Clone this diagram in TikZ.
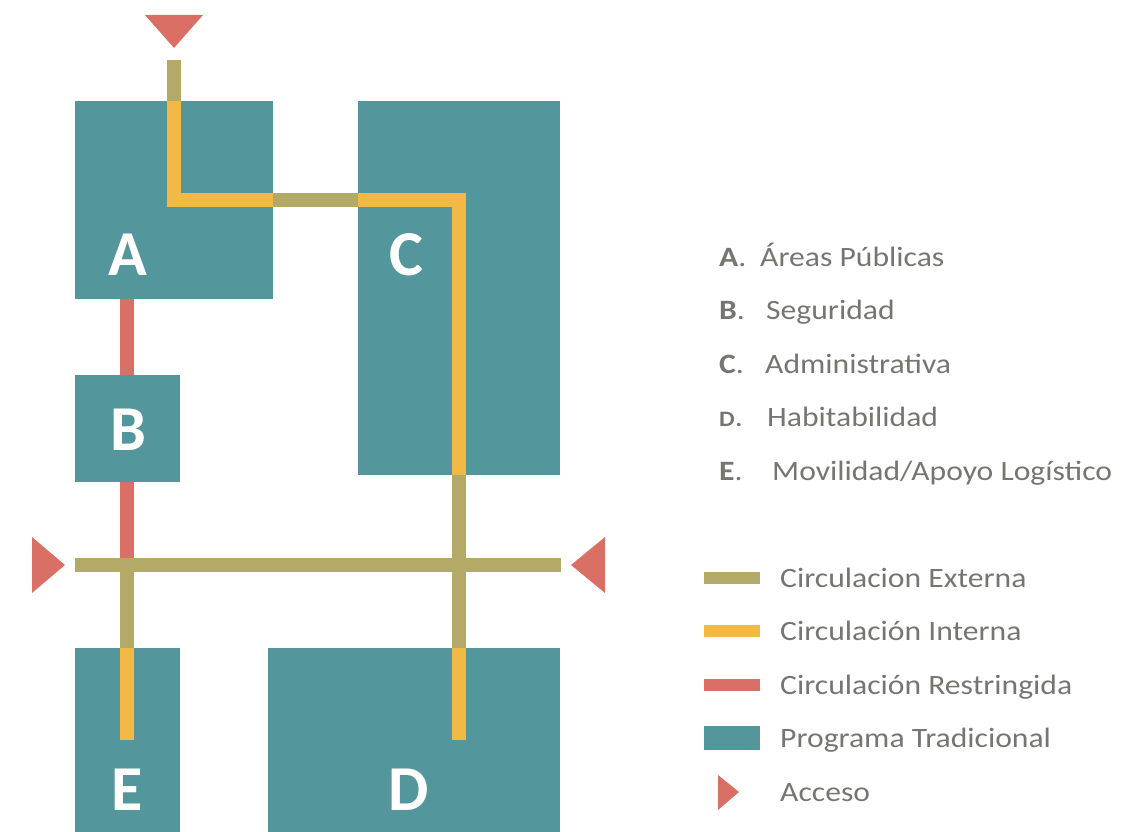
\documentclass[tikz,border=0pt]{standalone}
\usepackage{fontspec}
\setmainfont{Carlito}
\newfontfamily\legfont{Carlito}[FakeStretch=1.13]
\definecolor{teal}{HTML}{53979D}
\definecolor{olive}{HTML}{B2AA66}
\definecolor{amber}{HTML}{F2B944}
\definecolor{coral}{HTML}{DA7065}
\definecolor{txt}{HTML}{767671}
\tikzset{
  box/.style={fill=teal, draw=none, inner sep=0pt, anchor=north west},
  big/.style={text=white, font=\fontsize{64}{64}\selectfont\bfseries, inner sep=0pt},
  ext/.style={draw=olive, line width=14pt, line cap=butt, line join=miter},
  intl/.style={draw=amber, line width=14pt, line cap=butt, line join=miter},
  res/.style={draw=coral, line width=14pt, line cap=butt},
  acc/.style={fill=coral, draw=none},
  leg/.style={text=txt, font=\legfont\fontsize{28}{28}\selectfont, anchor=base west, inner sep=0pt},
}
\begin{document}
\begin{tikzpicture}[x=1pt,y=-1pt]
\useasboundingbox (0,0) rectangle (1144,832);
% boxes
\node[box, minimum width=198pt, minimum height=198pt] (A) at (75,101) {};
\node[box, minimum width=202pt, minimum height=374pt] (C) at (358,101) {};
\node[box, minimum width=105pt, minimum height=107pt] (B) at (75,375) {};
\node[box, minimum width=105pt, minimum height=184pt] (E) at (75,648) {};
\node[box, minimum width=292pt, minimum height=184pt] (D) at (268,648) {};
\node[big] (la) at (128,255) {A};
\node[big] (lc) at (406,255) {C};
\node[big] (lb) at (128,430) {B};
\node[big] (le) at (127,790) {E};
\node[big] (ld) at (409,790) {D};
% coordinates
\coordinate (t0) at (174,60);
\coordinate (t1) at (174,101);
\coordinate (t2) at (174,200);
\coordinate (t3) at (273,200);
\coordinate (t4) at (358,200);
\coordinate (t5) at (459,200);
\coordinate (t6) at (459,475);
\coordinate (t7) at (459,648);
\coordinate (t8) at (459,740);
\coordinate (r0) at (127,299);
\coordinate (r1) at (127,375);
\coordinate (r2) at (127,482);
\coordinate (r3) at (127,558);
\coordinate (h0) at (75,565);
\coordinate (h1) at (561,565);
\coordinate (v0) at (127,572);
\coordinate (v1) at (127,648);
\coordinate (v2) at (127,740);
% circulation
\draw[ext] (t0) -- (t1);
\draw[intl] (t1) -- (t2) -- (t3);
\draw[ext] (t3) -- (t4);
\draw[intl] (t4) -- (t5) -- (t6);
\draw[ext] (t6) -- (t7);
\draw[intl] (t7) -- (t8);
\draw[res] (r0) -- (r1);
\draw[res] (r2) -- (r3);
\draw[ext] (h0) -- (h1);
\draw[ext] (v0) -- (v1);
\draw[intl] (v1) -- (v2);
% access triangles
\fill[acc] (145,15) -- (203,15) -- (174,48) -- cycle;
\fill[acc] (32,537) -- (32,593) -- (65,565) -- cycle;
\fill[acc] (605,537) -- (605,593) -- (571,565) -- cycle;
% legend top
\node[leg] (ka) at (719,266) {\textbf{A}.};
\node[leg] (kat) at (760,266) {Áreas Públicas};
\node[leg] (kb) at (719,319.5) {\textbf{B}.};
\node[leg] (kbt) at (766,319.5) {Seguridad};
\node[leg] (kc) at (719,373) {\textbf{C}.};
\node[leg] (kct) at (765,373) {Administrativa};
\node[leg] (kd) at (719,426.5) {{\fontsize{22}{22}\selectfont\bfseries D}.};
\node[leg] (kdt) at (767,426.5) {Habitabilidad};
\node[leg] (ke) at (719,480) {\textbf{E}.};
\node[leg] (ket) at (772,480) {Movilidad/Apoyo Logístico};
% legend bottom
\fill[olive] (704,572) rectangle (760,584);
\node[leg] (k1) at (780,587) {Circulacion Externa};
\fill[amber] (704,625) rectangle (760,637);
\node[leg] (k2) at (780,640) {Circulación Interna};
\fill[coral] (704,679) rectangle (760,691);
\node[leg] (k3) at (780,694) {Circulación Restringida};
\fill[teal] (704,726) rectangle (760,750);
\node[leg] (k4) at (780,747) {Programa Tradicional};
\fill[acc] (718,775) -- (718,810) -- (739,792) -- cycle;
\node[leg] (k5) at (780,801) {Acceso};
\end{tikzpicture}
\end{document}
